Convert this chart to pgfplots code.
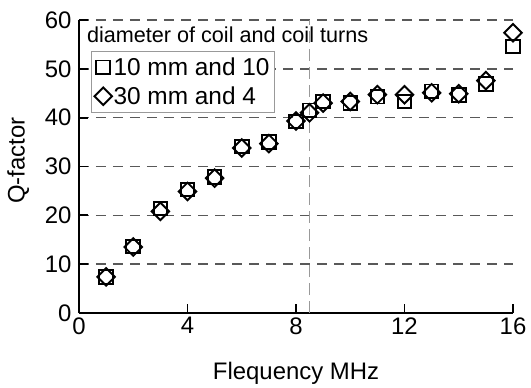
\documentclass[border=0pt]{standalone}
\usepackage{fontspec}
\setmainfont{Liberation Sans}
\usepackage{pgfplots}
\pgfplotsset{compat=1.18}
\begin{document}
\begin{tikzpicture}
\begin{axis}[
  name=ax,
  scale only axis, width=434bp, height=293bp,
  xmin=0, xmax=16, ymin=0, ymax=60,
  axis lines*=left,
  axis line style={line width=2bp, black},
  xtick={0,4,8,12,16}, ytick={0,10,20,30,40,50,60},
  tick align=inside, major tick length=9bp,
  tick style={line width=1.8bp, black},
  ymajorgrids,
  grid style={color=black!65, line width=1.5bp, dash pattern=on 10bp off 7bp},
  extra x ticks={8.5}, extra x tick labels={},
  extra x tick style={xmajorgrids=true, ymajorgrids=false, major tick length=0pt,
     grid style={color=black!40, line width=0.9bp, dash pattern=on 12bp off 6bp}},
  /pgf/number format/assume math mode=true,
  tick label style={font=\fontsize{24}{28}\selectfont},
  xticklabel style={yshift=-1bp},
  yticklabel style={xshift=-4bp},
  label style={font=\fontsize{24}{28}\selectfont},
  xlabel={Flequency MHz},
  xlabel style={at={(axis description cs:0.5,-0.205)}, anchor=center},
  ylabel={Q-factor},
  ylabel style={at={(axis description cs:-0.140,0.52)}, anchor=center},
  legend style={at={(rel axis cs:0.0276,0.894)}, anchor=north west,
     draw=black!40, line width=1bp, fill=white,
     font=\fontsize{24.5}{28}\selectfont,
     inner xsep=3bp, inner ysep=2bp, row sep=1.5bp,
     nodes={inner xsep=1.5bp, inner ysep=4bp, text height=17.5bp, text depth=2bp},
     /tikz/every odd column/.append style={column sep=0bp}},
  legend cell align=left,
  legend image code/.code={\draw[#1] plot coordinates {(0bp,0bp)};},
]
\addplot[only marks, mark=square, mark size=6.8bp,
  mark options={line width=1.9bp, draw=black, fill=white}]
  coordinates {
  (1,7.4) (2,13.6) (3,21.4) (4,25.3) (5,27.9) (6,34.1) (7,35.0) (8,39.2)
  (8.5,41.5) (9,43.3) (10,43.0) (11,44.3) (12,43.3) (13,45.4) (14,44.6)
  (15,46.9) (16,54.6)};
\addlegendentry{10 mm and 10}
\addplot[only marks, mark=square, mark size=6.2bp,
  mark options={rotate=45, line width=1.9bp, draw=black, fill=white}]
  coordinates {
  (1,7.4) (2,13.5) (3,20.8) (4,24.9) (5,27.6) (6,33.8) (7,34.7) (8,39.3)
  (8.5,41.0) (9,43.0) (10,43.3) (11,44.7) (12,44.7) (13,45.1) (14,44.9)
  (15,47.6) (16,57.4)};
\addlegendentry{30 mm and 4}
\node[anchor=west, inner sep=0pt, font=\fontsize{21.7}{26}\selectfont] at (rel axis cs:0.018,0.949) {diameter of coil and coil turns};
\end{axis}
\pgfresetboundingbox
\path ([shift={(-79bp,-75bp)}]ax.south west) rectangle ([shift={(18bp,20bp)}]ax.north east);
\end{tikzpicture}
\end{document}
